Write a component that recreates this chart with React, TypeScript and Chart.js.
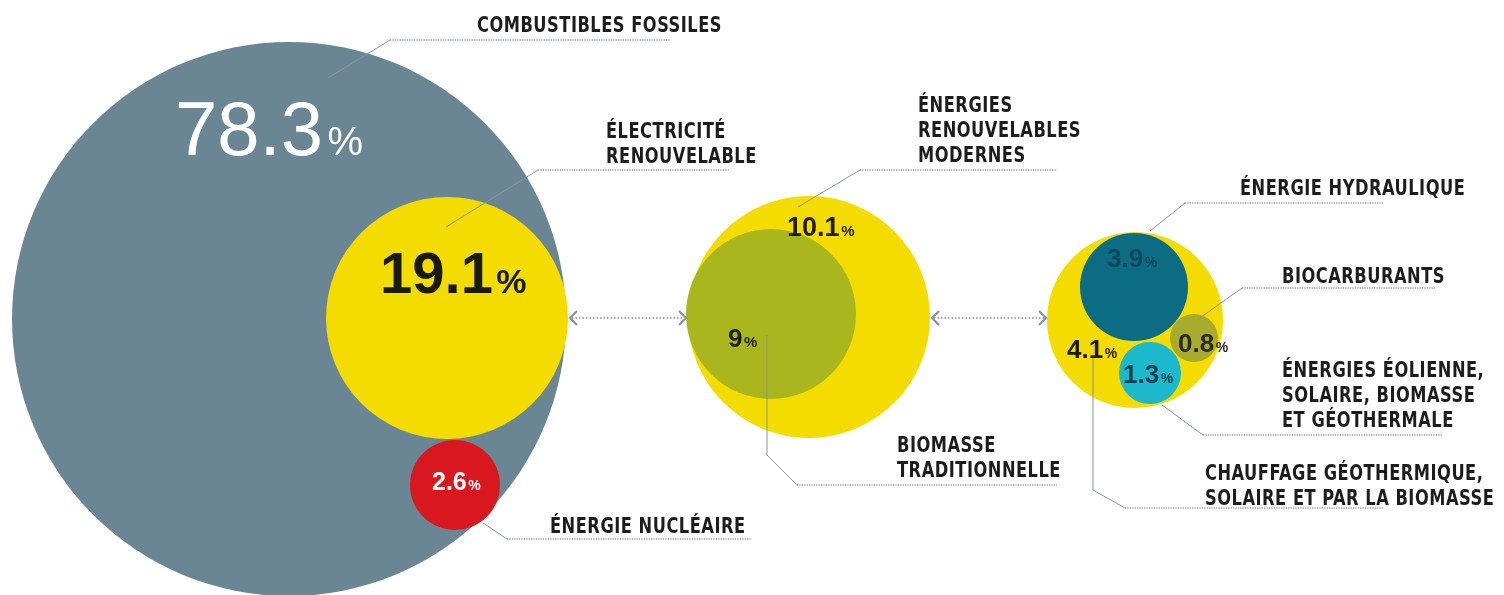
import { useEffect, useRef } from "react";
import { Chart, registerables } from "chart.js";

Chart.register(...registerables);

// ---- data ----
const categories = [
  "COMBUSTIBLES FOSSILES",
  "ÉLECTRICITÉ RENOUVELABLE",
  "ÉNERGIE NUCLÉAIRE",
  "ÉNERGIES RENOUVELABLES MODERNES",
  "BIOMASSE TRADITIONNELLE",
  "CHAUFFAGE GÉOTHERMIQUE, SOLAIRE ET PAR LA BIOMASSE",
  "ÉNERGIE HYDRAULIQUE",
  "BIOCARBURANTS",
  "ÉNERGIES ÉOLIENNE, SOLAIRE, BIOMASSE ET GÉOTHERMALE",
];
const shares = [78.3, 19.1, 2.6, 10.1, 9, 4.1, 3.9, 0.8, 1.3];
const labelLines = [
  ["COMBUSTIBLES FOSSILES"],
  ["ÉLECTRICITÉ", "RENOUVELABLE"],
  ["ÉNERGIE NUCLÉAIRE"],
  ["ÉNERGIES", "RENOUVELABLES", "MODERNES"],
  ["BIOMASSE", "TRADITIONNELLE"],
  ["CHAUFFAGE GÉOTHERMIQUE,", "SOLAIRE ET PAR LA BIOMASSE"],
  ["ÉNERGIE HYDRAULIQUE"],
  ["BIOCARBURANTS"],
  ["ÉNERGIES ÉOLIENNE,", "SOLAIRE, BIOMASSE", "ET GÉOTHERMALE"],
];

// ---- layout (scale units = page pixels) ----
const centerX = [289, 447, 455, 809, 771, 1135, 1134, 1194, 1150];
const centerY = [319, 318, 485, 317, 314, 320, 287, 338, 373];
const radius = [277, 121, 45, 121, 85, 88, 54, 24, 31];
const colors = ["#6a8695", "#f4dc00", "#d8171f", "#f4dc00", "#a9b61d", "#f4dc00", "#0c6c84", "#a9ab2c", "#1cb8cb"];

const valueX = [175, 380, 432, 787, 728, 1067, 1107, 1178, 1123];
const valueY = [155, 293, 490, 236, 347, 358, 267, 352, 383];
const valueSize = [76, 58, 25, 27, 26, 26, 26, 26, 26];
const pctSize = [40, 34, 14, 15, 15, 14, 14, 14, 14];
const valueBold = [false, true, true, true, true, true, true, true, true];
const valueColor = ["#ffffff", "#1a1a14", "#ffffff", "#1e1e10", "#1e2010", "#1a1a10", "#0a4a5a", "#2a2a20", "#0a3f4c"];

const labelX = [477, 606, 550, 918, 897, 1205, 1240, 1282, 1282];
const labelY = [32, 138, 533, 112, 452, 480, 195, 283, 377];
const lineGap = 25;
const labelSqueeze = 0.86;

const leaders: number[][][] = [
  [[328, 78], [390, 40], [670, 40]],
  [[446, 227], [538, 170], [730, 170]],
  [[483, 523], [507, 539], [752, 539]],
  [[798, 207], [860, 170], [1057, 170]],
  [[767, 335], [767, 455], [797, 485], [1057, 485]],
  [[1093, 357], [1093, 490], [1125, 508], [1383, 508]],
  [[1150, 231], [1185, 203], [1383, 203]],
  [[1197, 320], [1242, 288], [1435, 288]],
  [[1162, 405], [1203, 435], [1443, 435]],
];

const arrows = [
  [570, 686, 318],
  [932, 1046, 318],
];

const NUM_FONT = '"Liberation Sans", Arial, "DejaVu Sans", sans-serif';
const LABEL_FONT = '"Liberation Sans Narrow", "DejaVu Sans Condensed", "Roboto Condensed", sans-serif';

const overlayPlugin = {
  id: "overlay",
  afterDatasetsDraw(chart: any) {
    const ctx: CanvasRenderingContext2D = chart.ctx;
    const xs = chart.scales.x;
    const ys = chart.scales.y;
    const px = (v: number) => xs.getPixelForValue(v);
    const py = (v: number) => ys.getPixelForValue(v);
    ctx.save();

    // arrows
    arrows.forEach(([a, b, y]) => {
      ctx.strokeStyle = "#8090a0";
      ctx.lineWidth = 1.5;
      ctx.setLineDash([1.5, 2]);
      ctx.beginPath();
      ctx.moveTo(px(a) + 2, py(y));
      ctx.lineTo(px(b) - 2, py(y));
      ctx.stroke();
      ctx.setLineDash([]);
      ctx.lineWidth = 2;
      ctx.beginPath();
      ctx.moveTo(px(a) + 7, py(y) - 7);
      ctx.lineTo(px(a), py(y));
      ctx.lineTo(px(a) + 7, py(y) + 7);
      ctx.moveTo(px(b) - 7, py(y) - 7);
      ctx.lineTo(px(b), py(y));
      ctx.lineTo(px(b) - 7, py(y) + 7);
      ctx.stroke();
    });

    // leader lines
    leaders.forEach((pts) => {
      const n = pts.length;
      ctx.lineWidth = 1;
      ctx.strokeStyle = "#8a949c";
      ctx.setLineDash([]);
      ctx.beginPath();
      for (let i = 0; i < n - 2; i++) {
        ctx.moveTo(px(pts[i][0]), py(pts[i][1]));
        ctx.lineTo(px(pts[i + 1][0]), py(pts[i + 1][1]));
      }
      ctx.stroke();
      ctx.strokeStyle = "#8e98a2";
      ctx.lineWidth = 1.3;
      ctx.setLineDash([1.2, 1.2]);
      ctx.beginPath();
      ctx.moveTo(px(pts[n - 2][0]), py(pts[n - 2][1]));
      ctx.lineTo(px(pts[n - 1][0]), py(pts[n - 1][1]));
      ctx.stroke();
      ctx.setLineDash([]);
    });

    // category labels
    ctx.fillStyle = "#1c1c1c";
    ctx.textBaseline = "alphabetic";
    ctx.textAlign = "left";
    ctx.font = `bold 21px ${LABEL_FONT}`;
    try { (ctx as any).letterSpacing = "0.6px"; } catch (e) {}
    labelLines.forEach((lines, i) => {
      lines.forEach((t, j) => {
        ctx.save();
        ctx.translate(px(labelX[i]), py(labelY[i] + j * lineGap));
        ctx.scale(labelSqueeze, 1);
        ctx.fillText(t, 0, 0);
        ctx.restore();
      });
    });
    try { (ctx as any).letterSpacing = "0px"; } catch (e) {}

    // values
    shares.forEach((v, i) => {
      const w = valueBold[i] ? "bold " : "";
      const txt = String(v);
      ctx.fillStyle = valueColor[i];
      ctx.font = `${w}${valueSize[i]}px ${NUM_FONT}`;
      const x0 = px(valueX[i]);
      const y0 = py(valueY[i]);
      ctx.fillText(txt, x0, y0);
      const tw = ctx.measureText(txt).width;
      ctx.font = `${w}${pctSize[i]}px ${NUM_FONT}`;
      ctx.fillText("%", x0 + tw + valueSize[i] * 0.06, y0);
    });

    ctx.restore();
  },
};

export default function App() {
  const ref = useRef<HTMLCanvasElement | null>(null);
  useEffect(() => {
    document.body.style.margin = "0";
    if (!ref.current) return;
    const chart = new Chart(ref.current, {
      type: "bubble",
      data: {
        labels: categories,
        datasets: [
          {
            label: "Part de la consommation finale d'énergie",
            data: shares.map((s, i) => ({ x: centerX[i], y: centerY[i], r: radius[i], v: s })),
            backgroundColor: colors,
            borderWidth: 0,
            hoverRadius: 0,
            clip: false as any,
          } as any,
        ],
      },
      options: {
        responsive: false,
        maintainAspectRatio: false,
        animation: false,
        events: [],
        layout: { padding: 0, autoPadding: false } as any,
        plugins: { legend: { display: false }, tooltip: { enabled: false }, title: { display: false } },
        scales: {
          x: { type: "linear", min: 0, max: 1504, display: false },
          y: { type: "linear", min: 0, max: 595, reverse: true, display: false },
        },
      },
      plugins: [overlayPlugin],
    });
    return () => chart.destroy();
  }, []);
  return (
    <div style={{ width: 1504, height: 595, background: "#ffffff" }}>
      <canvas ref={ref} width={1504} height={595} style={{ display: "block" }} />
    </div>
  );
}
